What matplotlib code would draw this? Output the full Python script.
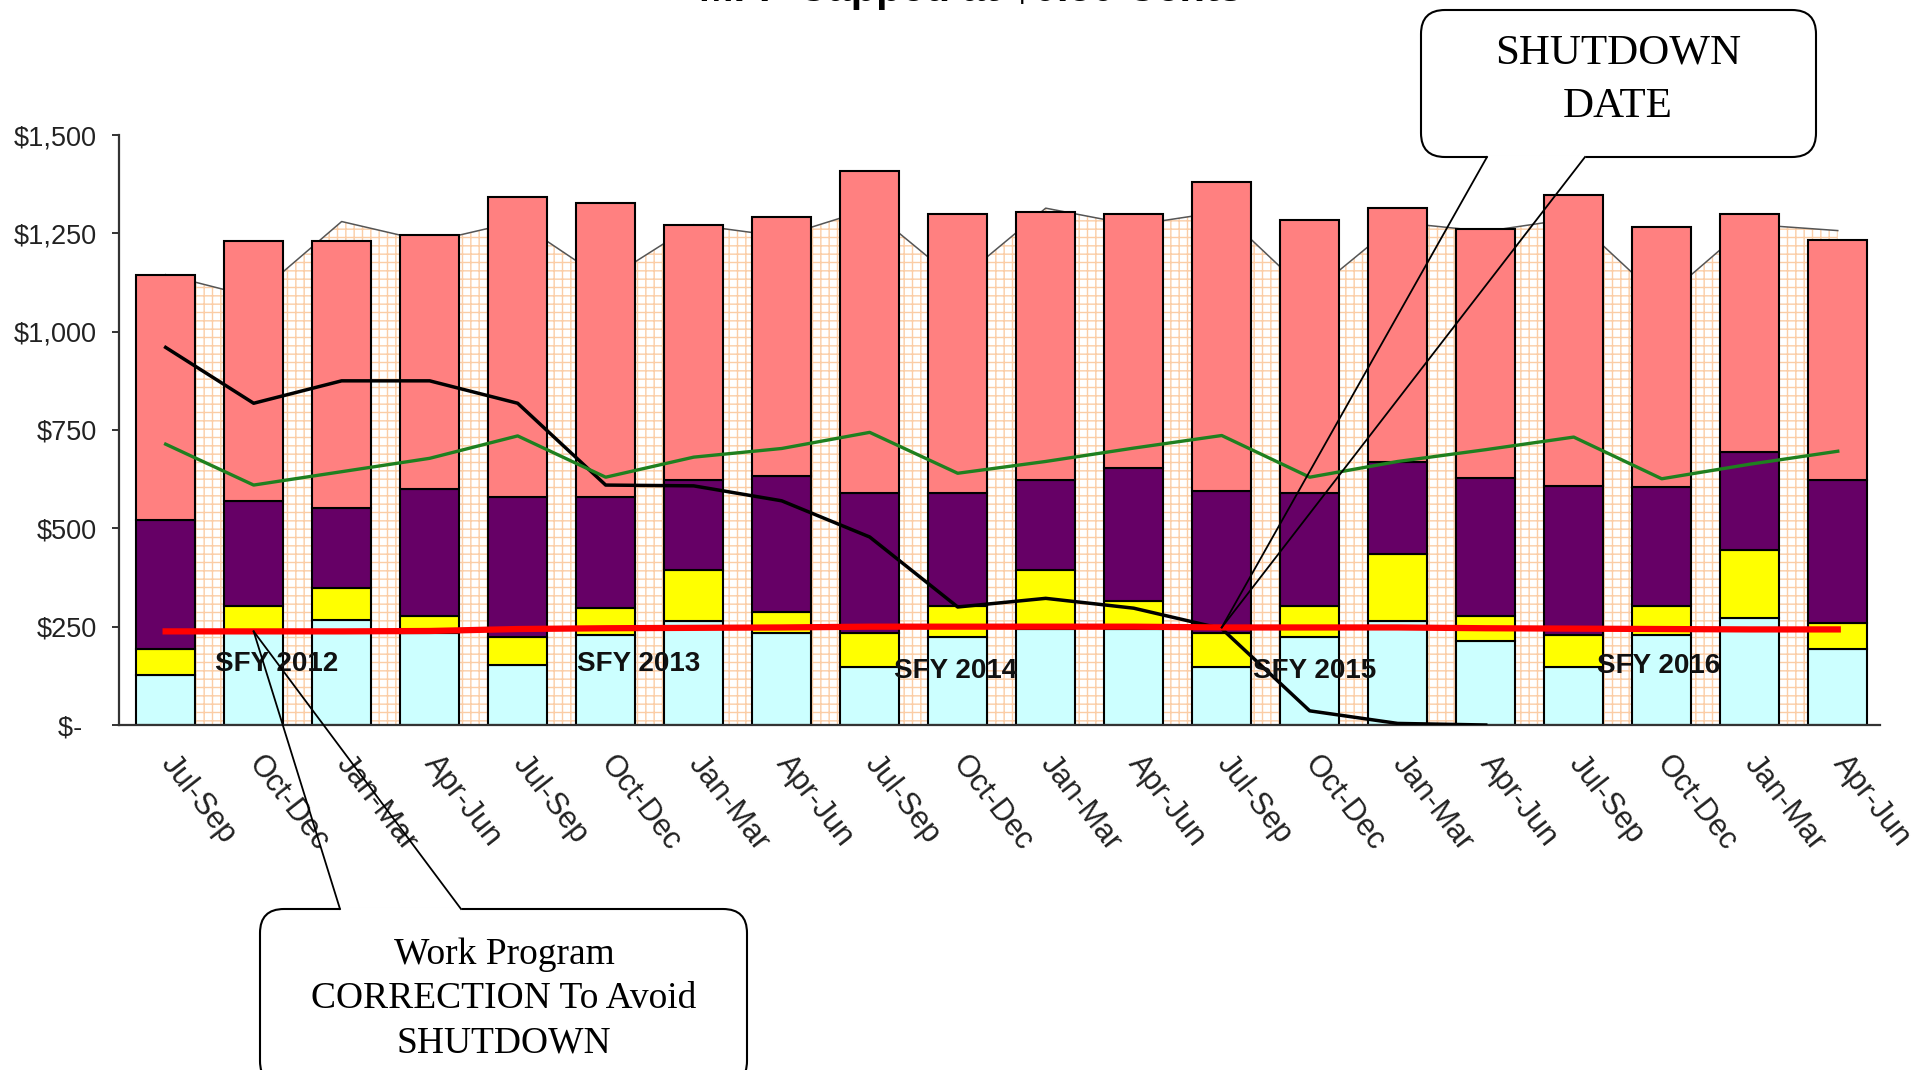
import numpy as np
import matplotlib
matplotlib.use("Agg")
import matplotlib.pyplot as plt
from matplotlib.patches import FancyBboxPatch
from matplotlib.lines import Line2D
from matplotlib.transforms import IdentityTransform

# quarters across SFY 2012 - SFY 2016
quarters = ["Jul-Sep", "Oct-Dec", "Jan-Mar", "Apr-Jun"] * 5

# stacked segments ($), bottom to top
cyan_seg = [126, 237, 267, 235, 152, 228, 264, 233, 147, 224,
            243, 243, 147, 224, 265, 214, 147, 228, 273, 192]
yellow_seg = [66, 65, 81, 43, 72, 69, 129, 55, 86, 78,
              151, 72, 86, 78, 170, 64, 83, 74, 173, 67]
purple_seg = [330, 268, 204, 322, 355, 282, 229, 345, 357, 288,
              228, 338, 362, 288, 233, 350, 377, 302, 248, 363]
pink_seg = [622, 660, 678, 645, 764, 748, 649, 658, 819, 708,
            681, 645, 785, 694, 647, 634, 741, 663, 604, 611]

# hatched background area
area_vals = [1145, 1088, 1280, 1228, 1280, 1130, 1272, 1242, 1312, 1128,
             1314, 1271, 1305, 1094, 1278, 1255, 1288, 1080, 1273, 1257]

# lines
black_line = [960, 818, 875, 875, 818, 610, 608, 570, 478, 300,
              322, 297, 245, 36, 4, 0]
green_line = [714, 610, 644, 678, 735, 630, 681, 703, 744, 640,
              670, 704, 736, 630, 670, 700, 732, 626, 663, 696]
red_line = [238, 238, 238, 239, 244, 246, 247, 248, 250, 250,
            250, 250, 248, 248, 248, 246, 245, 244, 243, 243]

sfy_labels = ["SFY 2012", "SFY 2013", "SFY 2014", "SFY 2015", "SFY 2016"]
yticks = [0, 250, 500, 750, 1000, 1250, 1500]
ytick_labels = ["$-  ", "$250", "$500", "$750", "$1,000", "$1,250", "$1,500"]

title = "MFP Capped at $0.50 Cents"

W, H = 1927, 1070
fig = plt.figure(figsize=(W / 100, H / 100), dpi=100)
ax = fig.add_axes([119 / W, 1 - 725 / H, (1880 - 119) / W, (725 - 135) / H])

x = np.arange(len(quarters))

# background area with orange grid
ax.fill_between(x, area_vals, 0, facecolor="white", edgecolor="#FBCDA6",
                hatch="++", linewidth=0, zorder=1)
ax.plot(x, area_vals, color="#555555", lw=1.1, zorder=1.5)

# stacked bars
bw = 0.67
bottom = np.zeros(len(x))
for seg, col in [(cyan_seg, "#CCFFFF"), (yellow_seg, "#FFFF00"),
                 (purple_seg, "#660066"), (pink_seg, "#FF8080")]:
    ax.bar(x, seg, bw, bottom=bottom, color=col, edgecolor="black",
           linewidth=1.5, zorder=2)
    bottom += np.array(seg)

ax.plot(np.arange(len(black_line)), black_line, color="black", lw=2.5, zorder=3)
ax.plot(x, green_line, color="#1F801F", lw=2.4, zorder=3)
ax.plot(x, red_line, color="#FF0000", lw=4.5, zorder=4)

# fiscal year labels
for lab, (tx, ty) in zip(sfy_labels, [(1.26, 156), (5.38, 156), (8.98, 137),
                                     (13.06, 137), (16.97, 150)]):
    ax.text(tx, ty, lab, ha="center", va="center", fontsize=20,
            fontweight="bold", family="Liberation Sans", color="#111111", zorder=5)

ax.set_xlim(-0.53, 19.48)
ax.set_ylim(0, 1500)
ax.set_yticks(yticks)
ax.set_yticklabels(ytick_labels, fontsize=19.5, family="Liberation Sans", color="#222222")
# labels start a little right of each bar centre (tick marks are hidden)
ax.set_xticks(x + 0.14)
ax.set_xticklabels(quarters, rotation=-52, ha="left", va="top",
                   rotation_mode="anchor", fontsize=22, family="Liberation Sans",
                   color="#222222")
ax.tick_params(axis="x", length=0, pad=18)
ax.tick_params(axis="y", length=5, width=1.4, pad=11, color="#333333")
for s in ["top", "right"]:
    ax.spines[s].set_visible(False)
for s in ["left", "bottom"]:
    ax.spines[s].set_linewidth(1.6)
    ax.spines[s].set_color("#333333")

# title (cut off at the top of the slide)
fig.text(971 / W, 1 - 1 / H, title, ha="center", va="baseline", fontsize=30,
         fontweight="bold", family="Liberation Sans")


def callout(x0, y0, x1, y1, edge_y, a, b, tip):
    # box in pixels measured from the top-left of the image
    box = FancyBboxPatch((x0, H - y1), x1 - x0, y1 - y0,
                         boxstyle="round,pad=0,rounding_size=24",
                         transform=IdentityTransform(), facecolor="white",
                         edgecolor="black", linewidth=1.5, zorder=10)
    fig.add_artist(box)
    fig.add_artist(Line2D([a, b], [H - edge_y, H - edge_y], color="white", lw=3.5,
                          solid_capstyle="butt", transform=IdentityTransform(), zorder=11))
    tx, ty = ax.transData.transform(tip)
    for px in (a, b):
        fig.add_artist(Line2D([px, tx], [H - edge_y, ty], color="black", lw=1.3,
                              transform=IdentityTransform(), zorder=11))


callout(1421, 10, 1816, 157, 157, 1487, 1585, (12, red_line[12]))
callout(260, 909, 747, 1085, 909, 340, 461, (1, red_line[1]))

fig.text(1618 / W, 1 - 80 / H, "SHUTDOWN\nDATE", ha="center", va="center",
         fontsize=31, family="Liberation Serif", linespacing=1.5, zorder=12)
fig.text(504 / W, 1 - 999 / H, "Work Program\nCORRECTION To Avoid\nSHUTDOWN",
         ha="center", va="center", fontsize=27, family="Liberation Serif",
         linespacing=1.38, zorder=12)

fig.savefig("out.png", dpi=100)
